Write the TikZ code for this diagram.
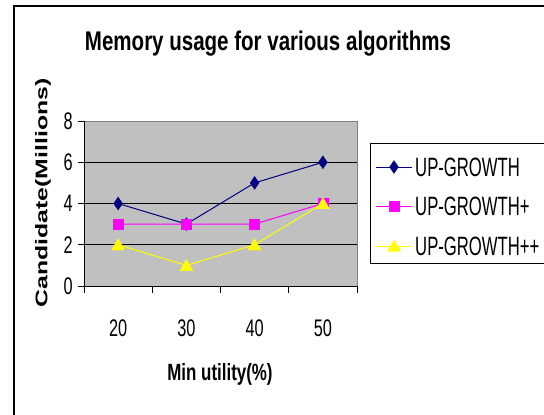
\documentclass[tikz,border=0pt]{standalone}
\usepackage{fontspec}
\usepackage{graphicx}
\setmainfont{Liberation Sans}
\newfontfamily\narrowfont{Liberation Sans}[FakeStretch=0.68]
\newfontfamily\legfont{Liberation Sans}[FakeStretch=0.63]
\newfontfamily\titlefont{Liberation Sans}[FakeStretch=0.76]
\newfontfamily\labfont{Liberation Sans}[FakeStretch=0.72]
\usetikzlibrary{shapes.geometric}
\definecolor{navyc}{HTML}{000080}
\definecolor{magc}{HTML}{FF00FF}
\definecolor{yelc}{HTML}{FFFF00}
\definecolor{plotbg}{HTML}{C0C0C0}
\begin{document}
\begin{tikzpicture}[x=1pt,y=-1pt,
  ticklab/.style={font=\narrowfont\fontsize{24}{28}\selectfont, inner sep=0pt},
  leglab/.style={font=\legfont\fontsize{26.5}{30}\selectfont, inner sep=0pt, anchor=west},
  dmark/.style={diamond, fill=navyc, draw=navyc, inner sep=0pt, minimum width=9pt, minimum height=13pt},
  smark/.style={rectangle, fill=magc, draw=magc, inner sep=0pt, minimum size=10pt},
  tmark/.style={regular polygon, regular polygon sides=3, fill=yelc, draw=yelc, inner sep=0pt, minimum size=15pt},
  aline/.style={navyc, line width=1pt},
  bline/.style={magc, line width=1pt},
  cline/.style={yelc, line width=1pt}]
\useasboundingbox (0,0) rectangle (544,415);
\fill[white] (0,0) rectangle (544,415);
% outer frame
\draw[line width=1.5pt] (14,415) -- (14,6) -- (545,6);
% title
\node[font=\titlefont\bfseries\fontsize{27}{30}\selectfont, inner sep=0pt] (title) at (268,44) {Memory usage for various algorithms};
% plot area
\filldraw[fill=plotbg, draw=gray, line width=0.8pt] (84,121) rectangle (357,286);
\foreach \v/\yy in {2/244.75,4/203.5,6/162.25}{
  \draw[black, line width=1pt] (84,\yy) -- (357,\yy);
}
% axes
\draw[black, line width=1pt] (84,121) -- (84,286) -- (357,286);
\foreach \v/\yy in {0/286,2/244.75,4/203.5,6/162.25,8/121}{
  \draw[black, line width=1pt] (78,\yy) -- (84,\yy);
  \node[ticklab, anchor=east] (yl\v) at (73,\yy) {\v};
}
\foreach \xx in {84,152.25,220.5,288.75,357}{
  \draw[black, line width=1pt] (\xx,286) -- (\xx,293);
}
\foreach \lab/\xx in {20/118.1,30/186.4,40/254.6,50/322.9}{
  \node[ticklab] (xl\lab) at (\xx,328) {\lab};
}
% axis titles
\node[font=\labfont\bfseries\fontsize{23.5}{28}\selectfont, inner sep=0pt] (xtitle) at (220,374) {Min utility(\%)};
\node[inner sep=0pt] (ytitle) at (43,193) {\scalebox{0.68}[1]{\rotatebox{90}{\fontsize{24.8}{28}\selectfont\bfseries Candidate(Millions)}}};
% data coordinates
\coordinate (a1) at (118.1,203.5);
\coordinate (a2) at (186.4,224.1);
\coordinate (a3) at (254.6,182.9);
\coordinate (a4) at (322.9,162.25);
\coordinate (b1) at (118.1,224.1);
\coordinate (b2) at (186.4,224.1);
\coordinate (b3) at (254.6,224.1);
\coordinate (b4) at (322.9,203.5);
\coordinate (c1) at (118.1,244.75);
\coordinate (c2) at (186.4,265.4);
\coordinate (c3) at (254.6,244.75);
\coordinate (c4) at (322.9,203.5);
\draw[aline] (a1) -- (a2) -- (a3) -- (a4);
\draw[bline] (b1) -- (b2) -- (b3) -- (b4);
\draw[cline] (c1) -- (c2) -- (c3) -- (c4);
\foreach \i in {1,2,3,4}{
  \node[dmark] (ma\i) at (a\i) {};
}
\foreach \i in {1,2,3,4}{
  \node[smark] (mb\i) at (b\i) {};
}
\foreach \i in {1,2,3,4}{
  \node[tmark, yshift=-1.5pt] (mc\i) at (c\i) {};
}
% legend
\draw[black, line width=0.8pt] (370,143) rectangle (544.5,263);
\coordinate (la0) at (376,167);
\coordinate (la1) at (412,167);
\coordinate (lb0) at (376,206);
\coordinate (lb1) at (412,206);
\coordinate (lc0) at (376,246);
\coordinate (lc1) at (412,246);
\draw[aline] (la0) -- (la1);
\draw[bline] (lb0) -- (lb1);
\draw[cline] (lc0) -- (lc1);
\node[dmark] (lma) at (394,167) {};
\node[smark] (lmb) at (394,206) {};
\node[tmark, yshift=-1.5pt] (lmc) at (394,246) {};
\node[leglab] (lta) at (415,167) {UP-GROWTH};
\node[leglab] (ltb) at (415,206) {UP-GROWTH+};
\node[leglab] (ltc) at (415,246) {UP-GROWTH++};
\end{tikzpicture}
\end{document}
